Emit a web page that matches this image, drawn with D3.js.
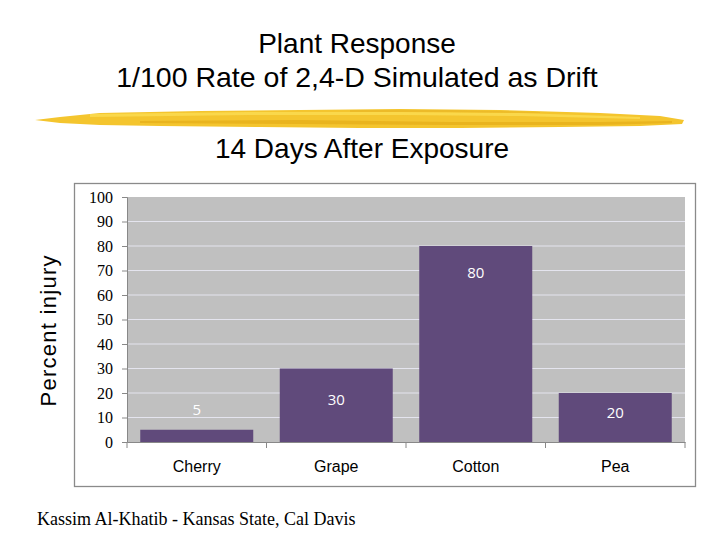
<!DOCTYPE html>
<html><head><meta charset="utf-8">
<script src="https://cdn.jsdelivr.net/npm/d3@7"></script>
<style>body{margin:0;background:#fff}svg{display:block}</style>
</head><body>
<script>
const categories = ["Cherry","Grape","Cotton","Pea"];
const values = [5,30,80,20];
const labelAt = [13,17,69,12]; // value-axis position of each data label
const yTicks = [0,10,20,30,40,50,60,70,80,90,100];

const W=720,H=540;
const svg=d3.select("body").append("svg").attr("width",W).attr("height",H);
const sans="Liberation Sans, Arial, sans-serif";
const serif="Liberation Serif, Times New Roman, serif";

// Titles
svg.append("text").attr("x",357).attr("y",53).attr("text-anchor","middle")
  .attr("font-family",sans).attr("font-size",28).text("Plant Response");
svg.append("text").attr("x",357).attr("y",87).attr("text-anchor","middle")
  .attr("font-family",sans).attr("font-size",28.5).text("1/100 Rate of 2,4-D Simulated as Drift");

// Yellow brush stroke
const g0=svg.append("g");
g0.append("path").attr("d","M35,120 L60,117 L100,113 L200,111 L300,110 L400,109 L500,110 L600,113 L660,116 L684,120 L682,124 L640,126 L560,127 L460,128 L360,128 L260,127 L160,126 L100,125 L60,123 Z")
  .attr("fill","#f4c52e");
g0.append("path").attr("d","M90,114 L250,112 L400,112 L520,113 L640,117 L640,119 L520,116 L400,115 L250,115 L90,117 Z")
  .attr("fill","#fbd94f").attr("opacity",0.9);
g0.append("path").attr("d","M140,121 L300,120 L450,122 L600,122 L672,121 L672,123 L600,125 L450,125 L300,124 L140,123 Z")
  .attr("fill","#e6ae19").attr("opacity",0.75);
g0.append("path").attr("d","M350,110 L450,110 L540,112 L540,113 L450,112 L350,112 Z")
  .attr("fill","#e9b626").attr("opacity",0.7);

svg.append("text").attr("x",362).attr("y",158).attr("text-anchor","middle")
  .attr("font-family",sans).attr("font-size",28).text("14 Days After Exposure");

// Frame
svg.append("rect").attr("x",74.5).attr("y",183.5).attr("width",621).attr("height",303)
  .attr("fill","#fff").attr("stroke","#8a8a8a").attr("stroke-width",1.3);

const x=d3.scaleBand().domain(categories).range([127,685]).paddingInner(0.19).paddingOuter(0.095);
const y=d3.scaleLinear().domain([0,100]).range([442,197]);

// plot background
svg.append("rect").attr("x",127).attr("y",y(100)).attr("width",685-127).attr("height",y(0)-y(100)).attr("fill","#c0c0c0");

// gridlines
svg.append("g").selectAll("line").data(yTicks.filter(d=>d>0 && d<100)).join("line")
  .attr("x1",127).attr("x2",685).attr("y1",d=>y(d)).attr("y2",d=>y(d))
  .attr("stroke","#e4e4ee").attr("stroke-width",1.2);

// bars
svg.append("g").selectAll("rect").data(values).join("rect")
  .attr("x",(d,i)=>x(categories[i])).attr("width",x.bandwidth())
  .attr("y",d=>y(d)).attr("height",d=>y(0)-y(d)).attr("fill","#604a7b");

// data labels
svg.append("g").selectAll("text").data(values).join("text")
  .attr("x",(d,i)=>x(categories[i])+x.bandwidth()/2).attr("y",(d,i)=>y(labelAt[i])+5)
  .attr("text-anchor","middle").attr("fill","#fff")
  .attr("font-family","Open Sans, DejaVu Sans").attr("font-size",15).text(d=>d);

// y axis
const ya=d3.axisLeft(y).tickValues(yTicks).tickSize(5).tickPadding(9);
const yg=svg.append("g").attr("transform","translate(127,0)").call(ya);
yg.select(".domain").attr("stroke","#888");
yg.selectAll(".tick line").attr("stroke","#888");
yg.selectAll(".tick text").attr("font-family",serif).attr("font-size",16).attr("fill","#000");

// x axis
const xa=d3.axisBottom(x).tickSize(0).tickPadding(19);
const xg=svg.append("g").attr("transform","translate(0,442)").call(xa);
xg.select(".domain").attr("stroke","#888");
xg.selectAll(".tick text").attr("font-family",sans).attr("font-size",16).attr("fill","#000");
// category boundary ticks
const bounds=[127].concat(categories.map(c=>x(c)+x.bandwidth()+x.step()*x.paddingInner()/2).slice(0,3)).concat([685]);
svg.append("g").selectAll("line").data(bounds).join("line")
  .attr("x1",d=>d).attr("x2",d=>d).attr("y1",442).attr("y2",448).attr("stroke","#888");

// y title
svg.append("text").attr("transform","translate(56,331) rotate(-90)").attr("text-anchor","middle")
  .attr("font-family",sans).attr("font-size",22).attr("textLength",151).attr("lengthAdjust","spacing").text("Percent injury");

// footer
svg.append("text").attr("x",37).attr("y",525).attr("font-family",serif)
  .attr("font-size",18).text("Kassim Al-Khatib - Kansas State, Cal Davis");
</script>
</body></html>
